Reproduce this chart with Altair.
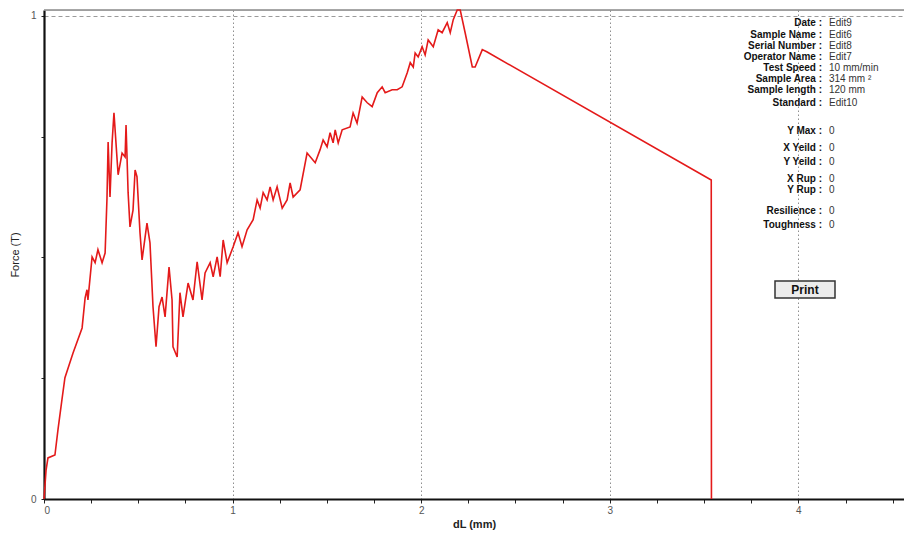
import altair as alt
import pandas as pd

# Force-elongation curve (dL in mm, Force in T)
dl = [0.0, 0.011, 0.021, 0.058, 0.074, 0.095, 0.111, 0.154, 0.202, 0.218, 0.228, 0.233,
      0.255, 0.271, 0.286, 0.308, 0.324, 0.334, 0.340, 0.350, 0.361, 0.371, 0.393, 0.414,
      0.430, 0.435, 0.446, 0.456, 0.472, 0.483, 0.493, 0.509, 0.520, 0.546, 0.562, 0.578,
      0.594, 0.610, 0.626, 0.642, 0.663, 0.679, 0.684, 0.706, 0.721, 0.737, 0.764, 0.790,
      0.812, 0.838, 0.854, 0.881, 0.897, 0.918, 0.934, 0.950, 0.971, 1.003, 1.029, 1.050,
      1.077, 1.109, 1.130, 1.146, 1.162, 1.183, 1.199, 1.215, 1.236, 1.263, 1.289, 1.305,
      1.321, 1.358, 1.395, 1.438, 1.464, 1.480, 1.501, 1.517, 1.533, 1.544, 1.560, 1.581,
      1.623, 1.639, 1.660, 1.687, 1.714, 1.740, 1.767, 1.793, 1.809, 1.846, 1.873, 1.899,
      1.926, 1.942, 1.958, 1.968, 1.984, 2.005, 2.021, 2.037, 2.064, 2.090, 2.111, 2.138,
      2.154, 2.170, 2.191, 2.207, 2.233, 2.271, 2.286, 2.324, 2.350, 3.538, 3.539]
force = [0.0, 0.060, 0.085, 0.091, 0.143, 0.205, 0.251, 0.302, 0.354, 0.416, 0.433, 0.412,
         0.501, 0.489, 0.516, 0.489, 0.509, 0.623, 0.739, 0.625, 0.737, 0.799, 0.671, 0.716,
         0.708, 0.774, 0.634, 0.563, 0.598, 0.681, 0.667, 0.551, 0.495, 0.571, 0.530, 0.398,
         0.315, 0.398, 0.418, 0.377, 0.480, 0.412, 0.315, 0.294, 0.427, 0.377, 0.447, 0.412,
         0.491, 0.412, 0.468, 0.489, 0.460, 0.501, 0.460, 0.536, 0.489, 0.522, 0.551, 0.522,
         0.557, 0.578, 0.619, 0.602, 0.634, 0.619, 0.646, 0.619, 0.646, 0.602, 0.619, 0.654,
         0.625, 0.640, 0.716, 0.696, 0.723, 0.743, 0.729, 0.758, 0.737, 0.764, 0.737, 0.764,
         0.770, 0.799, 0.778, 0.832, 0.820, 0.812, 0.841, 0.853, 0.841, 0.847, 0.847, 0.853,
         0.882, 0.903, 0.894, 0.923, 0.915, 0.936, 0.919, 0.950, 0.936, 0.971, 0.965, 0.986,
         0.965, 0.992, 1.012, 1.012, 0.965, 0.894, 0.894, 0.930, 0.925, 0.660, 0.0]

info_labels = ["Date :", "Sample Name :", "Serial Number :", "Operator Name :", "Test Speed :",
               "Sample Area :", "Sample length :", "Standard :",
               "Y Max :", "X Yeild :", "Y Yeild :", "X Rup :", "Y Rup :",
               "Resilience :", "Toughness :"]
info_values = ["Edit9", "Edit6", "Edit8", "Edit7", "10 mm/min", "314 mm ²", "120 mm", "Edit10",
               "0", "0", "0", "0", "0", "0", "0"]
# row centres in pixels from the top of the plot area (layout)
info_rows_px = [13, 25, 36, 47, 58, 69, 80, 93, 121, 138, 152, 169, 180, 201, 215]

W, H = 860, 489
XMAX, YMAX = 4.56, 1.012

curve = pd.DataFrame({"dl": dl, "force": force, "order": range(len(dl))})

x_ticks = [i * 0.25 for i in range(0, 19)]
y_ticks = [0, 0.25, 0.5, 0.75, 1]

xscale = alt.Scale(domain=[0, XMAX], nice=False, zero=True)
yscale = alt.Scale(domain=[0, YMAX], nice=False, zero=True)

line = alt.Chart(curve).mark_line(color="#e41a1a", strokeWidth=1.6, interpolate="linear").encode(
    x=alt.X("dl:Q", scale=xscale, title="dL (mm)", axis=alt.Axis(
        values=x_ticks,
        labelExpr="datum.value % 1 == 0 ? format(datum.value, 'd') : ''",
        grid=True,
        gridOpacity={"condition": {"test": "datum.value % 1 == 0 && datum.value > 0", "value": 1}, "value": 0},
        gridDash=[1.5, 2.5], gridColor="#8f8f8f", gridWidth=1,
        domainColor="#111", domainWidth=2.2,
        tickColor="#222", tickSize=4, tickWidth=1,
        labelColor="#555", labelFontSize=10, labelPadding=2, labelFont="Liberation Sans",
        titleFontSize=11, titleFontWeight="bold", titleColor="#222", titlePadding=3,
        titleFont="Liberation Sans")),
    y=alt.Y("force:Q", scale=yscale, title="Force (T)", axis=alt.Axis(
        values=y_ticks,
        labelExpr="datum.value % 1 == 0 ? format(datum.value, 'd') : ''",
        grid=True,
        gridOpacity={"condition": {"test": "datum.value == 1", "value": 1}, "value": 0},
        gridDash=[4, 3], gridColor="#9a9a9a", gridWidth=1,
        domainColor="#111", domainWidth=2.2,
        tickColor="#222", tickSize=3, tickWidth=1,
        labelColor="#555", labelFontSize=10, labelPadding=5, labelFont="Liberation Sans",
        titleFontSize=11, titleFontWeight="normal", titleColor="#222", titlePadding=10,
        titleFont="Liberation Sans")),
    order="order:Q",
)

top_border = alt.Chart(pd.DataFrame({"a": [0]})).mark_rule(color="#8a8a8a", strokeWidth=1.5).encode(
    x=alt.value(0), x2=alt.value(W), y=alt.value(0))

info = pd.DataFrame({
    "lab": info_labels,
    "val": info_values,
    "yv": [YMAX - p / H * YMAX for p in info_rows_px],
})

labels = alt.Chart(info).mark_text(align="right", baseline="middle", fontSize=10,
                                   fontWeight="bold", font="Liberation Sans", color="#111").encode(
    x=alt.value(778), y=alt.Y("yv:Q", scale=yscale), text="lab:N")
values = alt.Chart(info).mark_text(align="left", baseline="middle", fontSize=10,
                                   font="Liberation Sans", color="#333").encode(
    x=alt.value(785), y=alt.Y("yv:Q", scale=yscale), text="val:N")

btn = pd.DataFrame({"t": ["Print"]})
button = alt.Chart(btn).mark_rect(fill="#ececec", stroke="#333", strokeWidth=1.5).encode(
    x=alt.value(731), x2=alt.value(791), y=alt.value(271), y2=alt.value(288))
button_text = alt.Chart(btn).mark_text(fontSize=12, fontWeight="bold", font="Liberation Sans",
                                       color="#111", baseline="middle").encode(
    x=alt.value(761), y=alt.value(280), text="t:N")

chart = alt.layer(top_border, line, labels, values, button, button_text).properties(
    width=W, height=H,
    autosize=alt.AutoSizeParams(type="none"),
    padding={"left": 36, "top": 2, "right": 0, "bottom": 34},
).configure_view(stroke=None).configure(background="white")

chart.save("out.html", embed_options={"renderer": "svg", "actions": False})
